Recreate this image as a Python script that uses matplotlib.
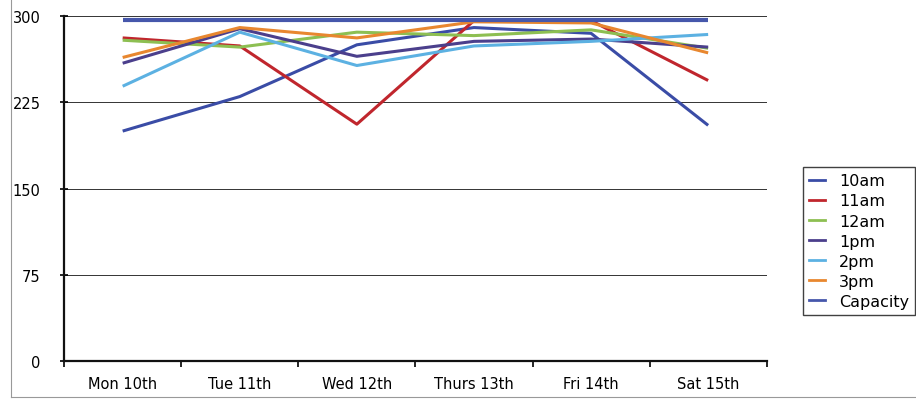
import matplotlib
matplotlib.use("Agg")
import matplotlib.pyplot as plt
from matplotlib.lines import Line2D

days = ["Mon 10th", "Tue 11th", "Wed 12th", "Thurs 13th", "Fri 14th", "Sat 15th"]
y_ticks = [0, 75, 150, 225, 300]

am10 = [200, 230, 275, 290, 285, 205]
am11 = [281, 274, 206, 296, 296, 244]
am12 = [279, 273, 286, 283, 288, 272]
pm1 = [259, 289, 265, 278, 280, 273]
pm2 = [239, 286, 257, 274, 278, 284]
pm3 = [264, 290, 281, 295, 294, 268]
capacity = [297, 297, 297, 297, 297, 297]

series = [
    ("10am", am10, "#3a4ca6", 2.2),
    ("11am", am11, "#c0262d", 2.2),
    ("12am", am12, "#8dbf52", 2.2),
    ("1pm", pm1, "#4b3f8c", 2.2),
    ("2pm", pm2, "#5cb1e2", 2.2),
    ("3pm", pm3, "#e8872f", 2.2),
    ("Capacity", capacity, "#4657ab", 3.0),
]

fig = plt.figure(figsize=(9.16, 4.06), dpi=100)
ax = fig.add_axes([0.07, 0.108, 0.767, 0.85])

x = list(range(len(days)))
for name, vals, color, lw in series:
    ax.plot(x, vals, color=color, lw=lw, label=name, solid_capstyle="butt", zorder=3)

ax.set_xlim(-0.5, len(days) - 0.5)
ax.set_ylim(0, 300)
ax.set_yticks(y_ticks)
ax.set_yticklabels([str(v) for v in y_ticks], fontsize=10.5)
for v in y_ticks[1:]:
    ax.axhline(v, color="#333333", lw=0.7, zorder=1)

# category labels centred, ticks at the boundaries
ax.set_xticks([i + 0.5 for i in range(-1, len(days))])
ax.set_xticklabels([])
ax.set_xticks(x, minor=True)
ax.set_xticklabels(days, minor=True, fontsize=10.5)
ax.tick_params(axis="x", which="minor", length=0, pad=11)
ax.tick_params(axis="x", which="major", length=4, width=1.2, direction="out")
ax.tick_params(axis="y", length=6, width=1.2, direction="inout", pad=14)

for side in ("top", "right"):
    ax.spines[side].set_visible(False)
for side in ("left", "bottom"):
    ax.spines[side].set_linewidth(1.6)
    ax.spines[side].set_color("#111111")

handles = [Line2D([], [], color=c, lw=2.0) for _, _, c, _ in series]
leg = fig.legend(handles, [s[0] for s in series], loc="upper left",
                 bbox_to_anchor=(803 / 916, 1 - 168 / 406), fontsize=11.5,
                 frameon=True, fancybox=False, handlelength=1.0,
                 handletextpad=0.85, labelspacing=0.32, borderpad=0.4,
                 borderaxespad=0)
leg.get_frame().set_edgecolor("#111111")
leg.get_frame().set_linewidth(1.0)

# outer chart frame
fig.add_artist(Line2D([11 / 916, 11 / 916], [1 - 398 / 406, 1.0],
                      transform=fig.transFigure, color="#999999", lw=0.8))
fig.add_artist(Line2D([11 / 916, 1.0], [1 - 398 / 406, 1 - 398 / 406],
                      transform=fig.transFigure, color="#999999", lw=0.8))

fig.savefig("out.png", dpi=100)
